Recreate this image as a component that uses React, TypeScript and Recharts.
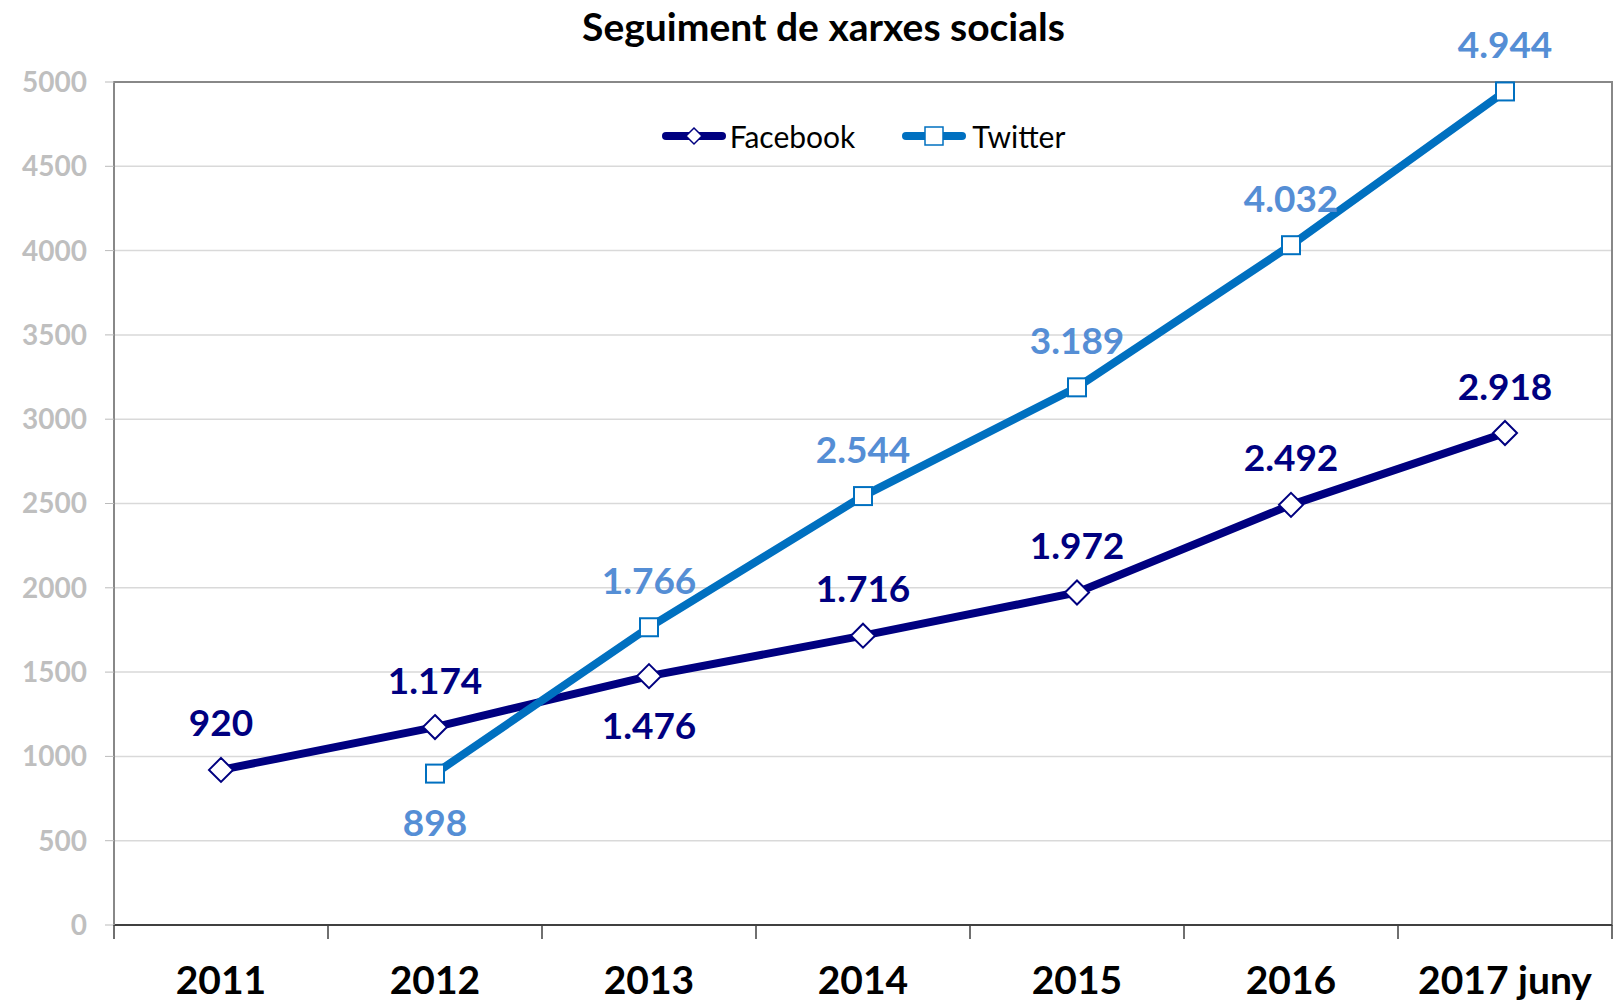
import React from 'react';
import {
    LineChart,
    Line,
    XAxis,
    YAxis,
    CartesianGrid,
    Legend,
    ReferenceArea,
} from 'recharts';

const years = ['2011', '2012', '2013', '2014', '2015', '2016', '2017 juny'];
const facebook = [920, 1174, 1476, 1716, 1972, 2492, 2918];
const twitter = [null, 898, 1766, 2544, 3189, 4032, 4944];
const yTicks = [0, 500, 1000, 1500, 2000, 2500, 3000, 3500, 4000, 4500, 5000];

// which labels sit under their point instead of above
const fbBelow = ['2013'];
const twBelow = ['2012'];

const FB_COLOR = '#000080';
const TW_COLOR = '#0070C0';
const TW_LABEL = '#558ED5';
const FONT = 'Lato, "Open Sans", sans-serif';

const CHART_W = 1619;
const CHART_H = 1003;
const MARGIN = { top: 82, right: 7, bottom: 0, left: 0 };
const Y_W = 114;
const X_H = 78;
const HALF_BAND = (CHART_W - MARGIN.left - MARGIN.right - Y_W) / years.length / 2;

const data = years.map((year, i) => ({
    year,
    facebook: facebook[i],
    twitter: twitter[i],
}));

const fmt = (v: number) => v.toString().replace(/\B(?=(\d{3})+(?!\d))/g, '.');

const Diamond = (props: any) => {
    const { cx, cy } = props;
    if (cx == null || cy == null) return null;
    const r = 12;
    return (
        <polygon
            points={`${cx},${cy - r} ${cx + r},${cy} ${cx},${cy + r} ${cx - r},${cy}`}
            fill="#fff"
            stroke={FB_COLOR}
            strokeWidth={2}
        />
    );
};

const Square = (props: any) => {
    const { cx, cy } = props;
    if (cx == null || cy == null) return null;
    const s = 9;
    return <rect x={cx - s} y={cy - s} width={s * 2} height={s * 2} fill="#fff" stroke={TW_COLOR} strokeWidth={2} />;
};

const makeLabel = (color: string, below: string[]) => (props: any) => {
    const { x, y, value, index } = props;
    if (value == null) return null;
    const down = below.includes(years[index]);
    return (
        <text
            x={x}
            y={down ? y + 48 : y - 48}
            textAnchor="middle"
            dominantBaseline="central"
            fill={color}
            fontFamily={FONT}
            fontWeight={700}
            fontSize={37}
        >
            {fmt(value)}
        </text>
    );
};

const XTick = (props: any) => {
    const { x, y, payload, index } = props;
    const last = index === years.length - 1;
    return (
        <g>
            <line x1={x - HALF_BAND} x2={x - HALF_BAND} y1={y} y2={y + 14} stroke="#404040" strokeWidth={1.5} />
            {last && <line x1={x + HALF_BAND} x2={x + HALF_BAND} y1={y} y2={y + 14} stroke="#404040" strokeWidth={1.5} />}
            <text
                x={x}
                y={y + 54}
                textAnchor="middle"
                dominantBaseline="central"
                fill="#000"
                fontFamily={FONT}
                fontWeight={700}
                fontSize={39}
            >
                {payload.value}
            </text>
        </g>
    );
};

const LegendContent = () => (
    <div style={{ display: 'flex', justifyContent: 'center', alignItems: 'center', fontFamily: FONT, fontSize: 30, color: '#000' }}>
        <svg width={66} height={20}>
            <line x1={5} x2={61} y1={10} y2={10} stroke={FB_COLOR} strokeWidth={8} strokeLinecap="round" />
            <polygon points="33,2 41,10 33,18 25,10" fill="#fff" stroke={FB_COLOR} strokeWidth={1.5} />
        </svg>
        <span style={{ marginLeft: 3, marginRight: 46 }}>Facebook</span>
        <svg width={66} height={20}>
            <line x1={5} x2={61} y1={10} y2={10} stroke={TW_COLOR} strokeWidth={8} strokeLinecap="round" />
            <rect x={24} y={1} width={18} height={18} fill="#fff" stroke={TW_COLOR} strokeWidth={1.5} />
        </svg>
        <span style={{ marginLeft: 5 }}>Twitter</span>
    </div>
);

export default function App() {
    return (
        <div style={{ position: 'absolute', left: 0, top: 0, width: CHART_W, height: CHART_H, background: '#fff' }}>
            <div
                style={{
                    position: 'absolute',
                    top: 3,
                    left: 14,
                    width: CHART_W,
                    textAlign: 'center',
                    fontFamily: FONT,
                    fontWeight: 700,
                    fontSize: 39,
                    color: '#000',
                    zIndex: 2,
                }}
            >
                Seguiment de xarxes socials
            </div>
            <LineChart width={CHART_W} height={CHART_H} data={data} margin={MARGIN}>
                <CartesianGrid vertical={false} stroke="#d9d9d9" strokeWidth={1.5} />
                <ReferenceArea y1={0} y2={5000} fill="none" stroke="#888" strokeWidth={2} ifOverflow="visible" />
                <XAxis
                    dataKey="year"
                    scale="band"
                    height={X_H}
                    tickSize={0}
                    tickMargin={0}
                    tickLine={false}
                    axisLine={{ stroke: '#404040', strokeWidth: 2 }}
                    tick={<XTick />}
                    interval={0}
                />
                <YAxis
                    width={Y_W}
                    domain={[0, 5000]}
                    ticks={yTicks}
                    tickSize={9}
                    tickMargin={18}
                    axisLine={{ stroke: '#888', strokeWidth: 2 }}
                    tickLine={{ stroke: '#bbb' }}
                    tick={{ fill: '#bfbfbf', fontFamily: FONT, fontWeight: 700, fontSize: 28 }}
                    interval={0}
                />
                <Legend
                    verticalAlign="middle"
                    align="center"
                    content={<LegendContent />}
                    wrapperStyle={{ top: 118, left: 114, width: 1498 }}
                />
                <Line
                    dataKey="facebook"
                    name="Facebook"
                    stroke={FB_COLOR}
                    strokeWidth={8}
                    dot={<Diamond />}
                    activeDot={false}
                    label={makeLabel(FB_COLOR, fbBelow)}
                    isAnimationActive={false}
                />
                <Line
                    dataKey="twitter"
                    name="Twitter"
                    stroke={TW_COLOR}
                    strokeWidth={8}
                    dot={<Square />}
                    activeDot={false}
                    label={makeLabel(TW_LABEL, twBelow)}
                    isAnimationActive={false}
                />
            </LineChart>
        </div>
    );
}
